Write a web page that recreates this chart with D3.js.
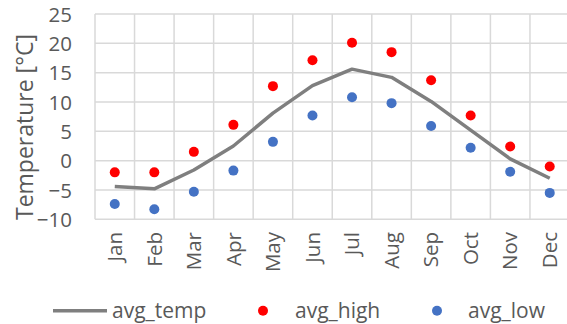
<!DOCTYPE html>
<html>
<head>
<meta charset="utf-8">
<script src="https://cdn.jsdelivr.net/npm/d3@7"></script>
<style>
  body { margin: 0; background: #fff; }
  text { font-family: "Open Sans", Lato, sans-serif; fill: #595959; }
</style>
</head>
<body>
<script>
var w = 567; // Width of the page
var h = 324; // Height of the page

// Data
var months = ["Jan", "Feb", "Mar", "Apr", "May", "Jun", "Jul", "Aug", "Sep", "Oct", "Nov", "Dec"];
var avgTemp = [-4.4, -4.8, -1.6, 2.5, 8.1, 12.8, 15.6, 14.2, 10.1, 5.2, 0.3, -3.0];
var avgHigh = [-2.0, -2.0, 1.5, 6.1, 12.7, 17.1, 20.1, 18.5, 13.7, 7.7, 2.4, -1.0];
var avgLow = [-7.4, -8.3, -5.3, -1.7, 3.2, 7.7, 10.8, 9.8, 5.9, 2.2, -1.9, -5.5];
var yTicks = [-10, -5, 0, 5, 10, 15, 20, 25];

// Plot area edges
var plotLeft = 95, plotRight = 569.5, plotTop = 14, plotBottom = 219.3;
var fontSize = 20.5;

var svg = d3.select("body")
    .append("svg")
    .attr("width", w)
    .attr("height", h);

var xScale = d3.scaleBand()
    .domain(months)
    .range([plotLeft, plotRight]);

var yScale = d3.scaleLinear()
    .domain([-10, 25])
    .range([plotBottom, plotTop]);

// Horizontal grid lines
svg.append("g")
    .selectAll("line")
    .data(yTicks)
    .join("line")
    .attr("x1", plotLeft)
    .attr("x2", plotRight)
    .attr("y1", function(d) { return yScale(d); })
    .attr("y2", function(d) { return yScale(d); })
    .attr("stroke", "#d9d9d9")
    .attr("stroke-width", 1.5);

// Vertical grid lines between categories
svg.append("g")
    .selectAll("line")
    .data(months.concat(["end"]))
    .join("line")
    .attr("x1", function(d, i) { return plotLeft + i * xScale.bandwidth(); })
    .attr("x2", function(d, i) { return plotLeft + i * xScale.bandwidth(); })
    .attr("y1", plotTop)
    .attr("y2", plotBottom)
    .attr("stroke", "#d9d9d9")
    .attr("stroke-width", 1.5);

// Y axis labels
var yAxis = d3.axisLeft(yScale).tickValues(yTicks).tickSize(0).tickPadding(0);
var gy = svg.append("g")
    .attr("transform", "translate(" + 72 + ",0)")
    .call(yAxis);
gy.select(".domain").remove();
gy.selectAll("text")
    .attr("font-size", fontSize)
    .attr("font-family", "\"Open Sans\", Lato, sans-serif")
    .attr("fill", "#595959")
    .attr("dy", "0.35em");

// X axis labels, rotated
var xAxis = d3.axisBottom(xScale).tickSize(0).tickPadding(0);
var gx = svg.append("g")
    .attr("transform", "translate(0," + 232 + ")")
    .call(xAxis);
gx.select(".domain").remove();
gx.selectAll("text")
    .attr("font-size", fontSize)
    .attr("font-family", "\"Open Sans\", Lato, sans-serif")
    .attr("fill", "#595959")
    .attr("text-anchor", "end")
    .attr("dy", "0.35em")
    .attr("y", 0)
    .attr("transform", "rotate(-90)");

// Y axis title
svg.append("text")
    .attr("text-anchor", "middle")
    .attr("transform", "translate(33,127) rotate(-90)")
    .attr("font-size", 23)
    .text("Temperature [°C]");

// avg_temp line
var line = d3.line()
    .x(function(d, i) { return xScale(months[i]) + xScale.bandwidth() / 2; })
    .y(function(d) { return yScale(d); });

svg.append("path")
    .datum(avgTemp)
    .attr("d", line)
    .attr("fill", "none")
    .attr("stroke", "#7f7f7f")
    .attr("stroke-width", 3.5)
    .attr("stroke-linejoin", "round");

// avg_high points
svg.append("g")
    .selectAll("circle")
    .data(avgHigh)
    .join("circle")
    .attr("cx", function(d, i) { return xScale(months[i]) + xScale.bandwidth() / 2; })
    .attr("cy", function(d) { return yScale(d); })
    .attr("r", 5)
    .attr("fill", "#ff0000");

// avg_low points
svg.append("g")
    .selectAll("circle")
    .data(avgLow)
    .join("circle")
    .attr("cx", function(d, i) { return xScale(months[i]) + xScale.bandwidth() / 2; })
    .attr("cy", function(d) { return yScale(d); })
    .attr("r", 5)
    .attr("fill", "#4472c4");

// Legend
var legendY = 310.7;
svg.append("line")
    .attr("x1", 53).attr("x2", 107)
    .attr("y1", legendY).attr("y2", legendY)
    .attr("stroke", "#7f7f7f")
    .attr("stroke-width", 3.5);
svg.append("circle").attr("cx", 263).attr("cy", legendY).attr("r", 5).attr("fill", "#ff0000");
svg.append("circle").attr("cx", 437).attr("cy", legendY).attr("r", 5).attr("fill", "#4472c4");

var legendItems = [["avg_temp", 112], ["avg_high", 295], ["avg_low", 468]];
svg.append("g")
    .selectAll("text")
    .data(legendItems)
    .join("text")
    .attr("x", function(d) { return d[1]; })
    .attr("y", legendY)
    .attr("dy", "0.35em")
    .attr("font-size", 21)
    .text(function(d) { return d[0]; });
</script>
</body>
</html>
